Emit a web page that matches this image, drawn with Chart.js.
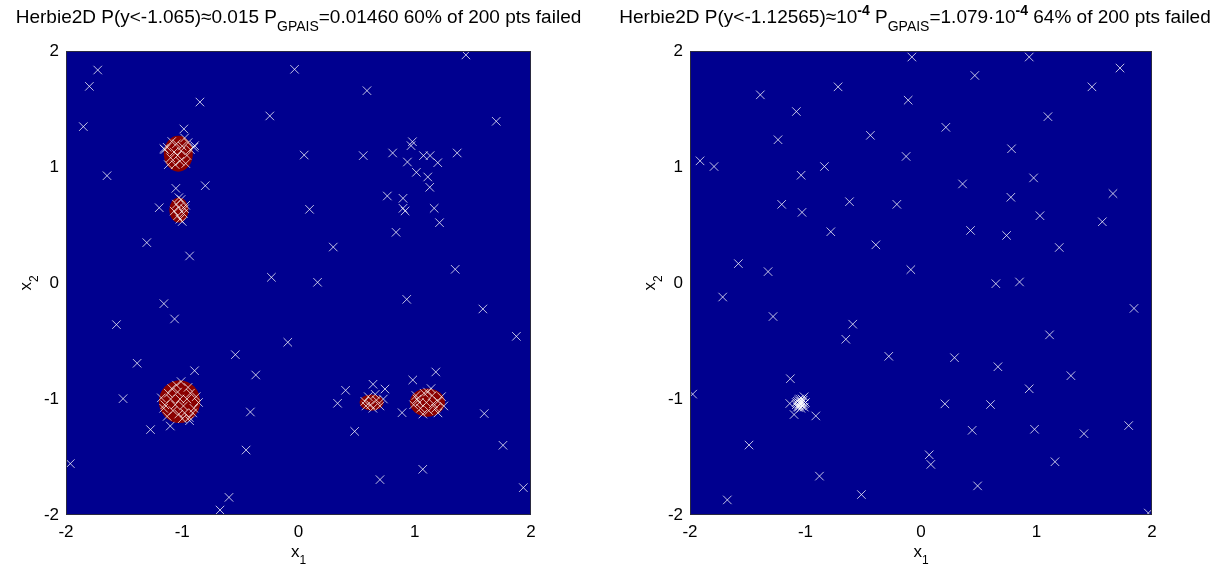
<!DOCTYPE html>
<html>
<head>
<meta charset="utf-8">
<script src="https://cdn.jsdelivr.net/npm/chart.js@4"></script>
<style>
body { margin: 0; background: #fff; width: 1223px; height: 568px; overflow: hidden; position: relative; }
canvas { position: absolute; top: 0; }
</style>
</head>
<body>
<canvas id="left" width="611" height="568" style="left:0"></canvas>
<canvas id="right" width="612" height="568" style="left:611px"></canvas>
<script>
// axis ticks
const tickValues = [-2, -1, 0, 1, 2];
const tickLabels = ['-2', '-1', '0', '1', '2'];

// titles: [text, 0 normal / -1 subscript / 1 superscript]
const leftTitle = [['Herbie2D P(y<-1.065)\u22480.015 P', 0], ['GPAIS', -1], ['=0.01460 60% of 200 pts failed', 0]];
const rightTitle = [['Herbie2D P(y<-1.12565)\u224810', 0], ['-4', 1], [' P', 0], ['GPAIS', -1],
                    ['=1.079\u00b710', 0], ['-4', 1], [' 64% of 200 pts failed', 0]];

// failure regions (left), in x1/x2 units
const blobCx = [-1.034, -1.029, -1.023, 0.629, 1.109];
const blobCy = [1.115, 0.629, -1.023, -1.031, -1.031];
const blobRx = [0.125, 0.083, 0.178, 0.103, 0.151];
const blobRy = [0.155, 0.108, 0.184, 0.070, 0.122];

// left samples
const leftPts = [
  [1.440,1.966],[-1.727,1.836],[-0.034,1.842],[-1.799,1.695],[0.589,1.658],[-0.848,1.560],[-0.247,1.440],
  [1.701,1.394],[-1.851,1.348],[-0.986,1.328],[0.049,1.103],[0.557,1.098],[0.810,1.121],[0.980,1.218],
  [0.968,1.184],[0.937,1.043],[1.075,1.098],[1.132,1.098],[1.198,1.037],[1.365,1.121],[1.014,0.954],
  [1.112,0.914],[1.129,0.825],[-1.647,0.925],[-0.802,0.839],[-1.055,0.816],[0.764,0.750],[0.899,0.730],
  [0.899,0.644],[0.917,0.621],[1.167,0.644],[1.213,0.520],[0.095,0.635],[-1.198,0.649],[0.839,0.437],
  [-1.305,0.348],[0.299,0.310],[-0.937,0.233],[1.348,0.118],[-0.233,0.049],[0.164,0.006],
  [-0.894,1.184],[-1.158,1.158],[-1.029,0.736],
  [0.931,-0.141],[1.586,-0.224],[-1.158,-0.178],[-1.066,-0.310],[-1.566,-0.359],[1.874,-0.460],
  [-0.092,-0.511],[-0.543,-0.618],[-1.388,-0.692],[-0.894,-0.756],[-0.368,-0.793],[1.181,-0.767],
  [0.983,-0.836],[0.641,-0.873],[0.744,-0.914],[0.405,-0.925],[0.336,-1.037],[-1.509,-0.997],
  [-0.414,-1.112],[1.598,-1.126],[0.891,-1.118],[-1.273,-1.264],[0.483,-1.279],[1.759,-1.399],
  [-0.451,-1.440],[1.069,-1.606],[0.701,-1.695],[-1.963,-1.557],[1.934,-1.764],[-0.598,-1.848],
  [-0.675,-1.957],[-1.103,-1.233],[-0.937,-1.187],
  // inside / around the failure regions
  [-1.13,1.17],[-0.98,1.25],[-1.05,1.20],[-0.93,1.15],[-1.10,1.08],[-1.02,1.05],[-0.96,1.10],[-1.07,1.13],
  [-1.00,1.18],[-1.12,1.02],[-0.97,1.03],[-1.04,1.10],[-1.09,1.22],[-0.95,1.21],[-1.01,1.14],[-1.06,1.02],
  [-0.90,1.17],[-1.15,1.15],
  [-1.05,0.68],[-0.99,0.60],[-1.02,0.55],[-0.97,0.67],[-1.07,0.62],[-1.01,0.72],[-1.04,0.58],[-0.98,0.64],
  [-1.03,0.65],[-1.00,0.53],
  [-1.12,-0.95],[-1.05,-0.88],[-0.95,-0.90],[-0.88,-0.98],[-1.15,-1.05],[-1.08,-1.10],[-0.98,-1.12],
  [-0.90,-1.08],[-1.02,-1.00],[-1.10,-1.00],[-0.96,-1.00],[-1.04,-0.94],[-0.93,-0.95],[-1.00,-1.17],
  [-1.13,-1.15],[-0.86,-1.03],[-1.18,-0.99],[-1.06,-1.05],[-0.99,-1.06],[-1.03,-1.13],[-0.94,-1.16],
  [-1.09,-0.91],[-1.01,-0.85],[-0.91,-1.12],[-1.16,-1.08],
  [0.57,-1.02],[0.62,-1.05],[0.67,-1.01],[0.60,-0.98],[0.70,-1.06],[0.64,-1.08],[0.66,-0.96],[0.58,-1.06],
  [0.73,-1.00],
  [1.02,-1.00],[1.08,-0.95],[1.15,-0.97],[1.20,-1.02],[1.05,-1.08],[1.12,-1.10],[1.18,-1.08],[1.10,-1.03],
  [0.99,-1.05],[1.23,-0.98],[1.14,-0.91],[1.07,-1.13],[1.20,-1.12],[1.01,-0.97],[1.16,-1.04],[1.11,-0.94],
  [1.25,-1.06],[1.04,-1.03]
];

// right samples
const rightPts = [
  [-0.079,1.948],[0.937,1.948],[0.466,1.789],[1.723,1.853],[1.480,1.691],[-0.718,1.691],[-1.391,1.622],
  [-0.111,1.576],[-1.079,1.478],[1.099,1.434],[0.215,1.342],[-0.438,1.273],[-1.238,1.235],[0.784,1.157],
  [-0.129,1.091],[-1.913,1.053],[-1.792,1.004],[-0.836,1.004],[-1.038,0.929],[0.975,0.906],[0.360,0.854],
  [1.662,0.771],[0.778,0.739],[-1.206,0.678],[-0.619,0.701],[-0.209,0.678],[-1.030,0.609],[1.030,0.580],
  [1.570,0.528],[-0.781,0.442],[0.429,0.453],[0.741,0.410],[-0.391,0.329],[1.197,0.306],[-1.581,0.167],
  [-1.324,0.098],[-0.088,0.115],[0.648,-0.006],[0.853,0.009],[-1.717,-0.121],[1.844,-0.219],[-1.281,-0.289],
  [-0.591,-0.355],[-0.651,-0.485],[1.113,-0.447],[-0.279,-0.632],[0.290,-0.644],[0.666,-0.722],[1.298,-0.799],
  [-1.131,-0.825],[0.937,-0.912],[-1.977,-0.958],[0.207,-1.042],[0.602,-1.048],[-1.136,-1.039],[-1.012,-0.981],
  [-1.099,-1.134],[-0.911,-1.146],[0.443,-1.270],[0.983,-1.261],[1.411,-1.299],[1.798,-1.229],[-1.489,-1.397],
  [0.071,-1.481],[0.085,-1.564],[1.160,-1.541],[-0.879,-1.665],[0.490,-1.749],[-0.516,-1.824],[-1.677,-1.870],
  [1.968,-1.983],
  // dense failure spot
  [-1.07,-1.02],[-1.03,-1.06],[-1.06,-1.07],[-1.02,-1.01],[-1.04,-1.04],[-1.08,-1.05],[-1.03,-1.00],
  [-1.06,-1.01],[-1.01,-1.04],[-1.07,-1.07],[-1.04,-1.08],[-1.01,-1.07],[-1.05,-1.04],[-1.03,-1.03],
  [-1.05,-1.00],[-1.08,-1.03],[-1.02,-1.05],[-1.06,-1.05],[-1.04,-1.02],[-1.00,-1.03],[-1.05,-1.06]
];

const FONT = '"Liberation Sans", Arial, sans-serif';

function drawRich(ctx, segs, x, y, size) {
  const fontFor = k => (k === 1 ? 'bold ' : '') + Math.round(k === 0 ? size : size * 0.72) + 'px ' + FONT;
  let w = 0;
  segs.forEach(([t, k]) => { ctx.font = fontFor(k); w += ctx.measureText(t).width; });
  let px = x - w / 2;
  ctx.fillStyle = '#000';
  ctx.textAlign = 'left';
  ctx.textBaseline = 'alphabetic';
  segs.forEach(([t, k]) => {
    ctx.font = fontFor(k);
    const dy = k === -1 ? size * 0.42 : (k === 1 ? -size * 0.42 : 0);
    ctx.fillText(t, px, y + dy);
    px += ctx.measureText(t).width;
  });
}

const backdrop = {
  id: 'backdrop',
  beforeDraw(chart) {
    const { ctx, chartArea: a } = chart;
    ctx.save();
    ctx.fillStyle = '#00008f';
    ctx.fillRect(a.left, a.top, a.right - a.left, a.bottom - a.top);
    ctx.restore();
  },
  afterDatasetsDraw(chart) {
    const { ctx, chartArea: a } = chart;
    ctx.save();
    ctx.strokeStyle = '#2a2a40';
    ctx.lineWidth = 1;
    ctx.strokeRect(a.left + 0.5, a.top + 0.5, a.right - a.left - 1, a.bottom - a.top - 1);
    ctx.restore();
  }
};

const blobs = {
  id: 'blobs',
  beforeDatasetsDraw(chart, args, opts) {
    if (!opts.cx) return;
    const { ctx, scales: { x, y } } = chart;
    ctx.save();
    ctx.fillStyle = '#8a0000';
    opts.cx.forEach((c, i) => {
      const px = x.getPixelForValue(c), py = y.getPixelForValue(opts.cy[i]);
      const rx = Math.abs(x.getPixelForValue(c + opts.rx[i]) - px);
      const ry = Math.abs(y.getPixelForValue(opts.cy[i] + opts.ry[i]) - py);
      ctx.beginPath();
      ctx.ellipse(px, py, rx, ry, 0, 0, Math.PI * 2);
      ctx.fill();
    });
    ctx.restore();
  }
};

const labels = {
  id: 'labels',
  afterDraw(chart, args, opts) {
    const { ctx, chartArea: a } = chart;
    const cx = (a.left + a.right) / 2;
    drawRich(ctx, opts.title, cx + opts.shift, 23, 19);
    drawRich(ctx, [['x', 0], ['1', -1]], cx, 557, 17);
    ctx.save();
    ctx.translate(a.left - 35, (a.top + a.bottom) / 2);
    ctx.rotate(-Math.PI / 2);
    drawRich(ctx, [['x', 0], ['2', -1]], 0, 0, 17);
    ctx.restore();
  }
};

function axis(fit) {
  return {
    type: 'linear', min: -2, max: 2,
    afterBuildTicks: s => { s.ticks = tickValues.map(v => ({ value: v })); },
    afterFit: fit,
    grid: { display: false, drawTicks: false },
    border: { display: false },
    ticks: {
      color: '#000',
      font: { family: FONT, size: 17 },
      padding: 7,
      callback: v => tickLabels[tickValues.indexOf(v)]
    }
  };
}

function makeChart(id, pts, title, yWidth, padRight, shift, blobData) {
  return new Chart(document.getElementById(id), {
    type: 'scatter',
    data: {
      datasets: [{
        data: pts.map(p => ({ x: p[0], y: p[1] })),
        pointStyle: 'crossRot',
        pointRadius: 6,
        pointHoverRadius: 6,
        borderColor: 'rgba(255,255,255,0.75)',
        borderWidth: 1,
        clip: 0
      }]
    },
    options: {
      responsive: false,
      animation: false,
      events: [],
      layout: { padding: { top: 51, right: padRight, left: 0, bottom: 0 } },
      scales: {
        x: axis(s => { s.height = 53; }),
        y: axis(s => { s.width = yWidth; })
      },
      plugins: {
        legend: { display: false },
        tooltip: { enabled: false },
        blobs: blobData,
        labels: { title: title, shift: shift }
      }
    },
    plugins: [backdrop, blobs, labels]
  });
}

makeChart('left', leftPts, leftTitle, 66, 80, 0, { cx: blobCx, cy: blobCy, rx: blobRx, ry: blobRy });
makeChart('right', rightPts, rightTitle, 79, 71, -6, {});
</script>
</body>
</html>
